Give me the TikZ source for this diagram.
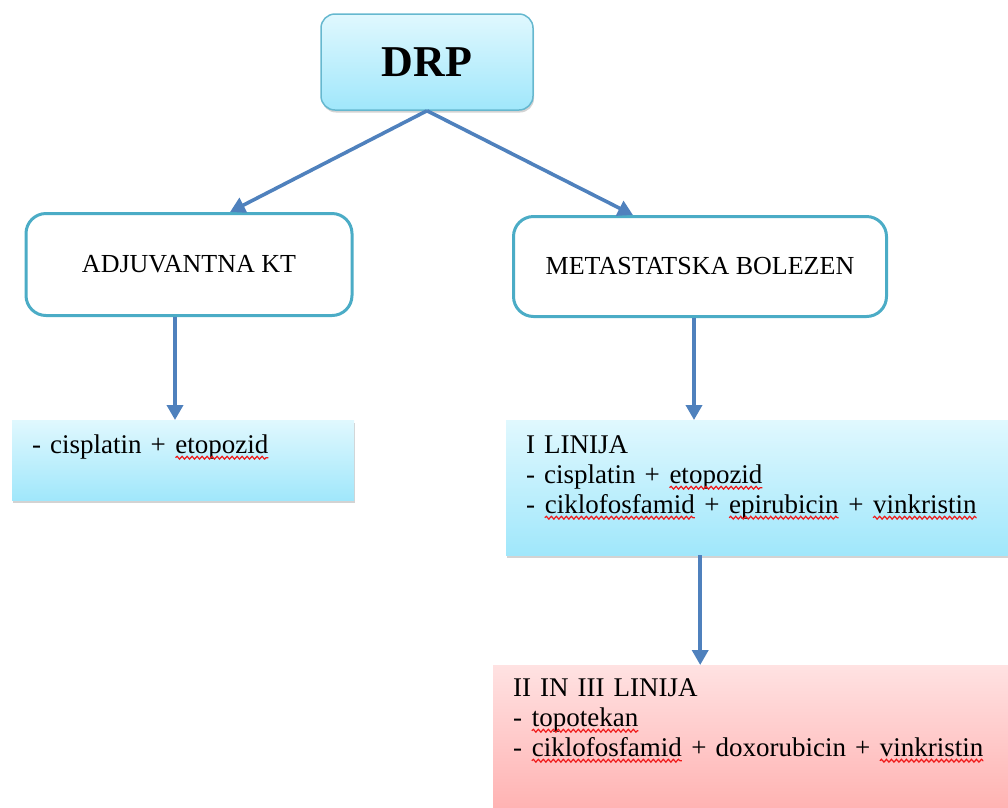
\documentclass[tikz,border=0pt]{standalone}
\usepackage{fontspec}
\setmainfont{Liberation Serif}
\usepackage{xcolor}
\usepackage{tikz}
\usetikzlibrary{arrows.meta}
\usetikzlibrary{shadows}
\usetikzlibrary{decorations.pathmorphing}
\usetikzlibrary{positioning}

\definecolor{boxline}{HTML}{4BACC6}
\definecolor{arrowblue}{HTML}{4F81BD}
\definecolor{cyantop}{HTML}{E0F8FE}
\definecolor{cyanbot}{HTML}{A0E7FB}
\definecolor{pinktop}{HTML}{FFE2E2}
\definecolor{pinkbot}{HTML}{FFA6A6}
\definecolor{spellred}{HTML}{F01818}

% red wavy spell-check underline
\newcommand\spell[1]{\tikz[baseline=(sw.base)]{%
    \node[inner sep=0pt, outer sep=0pt, anchor=base] (sw) {#1};
    \draw[spellred, line width=1.2pt, decorate,
      decoration={snake, amplitude=1.4pt, segment length=5pt}]
      ([yshift=-4.5pt]sw.base west) -- ([yshift=-4.5pt]sw.base east);}}

\begin{document}
\begin{tikzpicture}[x=1pt, y=-1pt,
    head/.style={draw=boxline!85, line width=1.5pt, rounded corners=14pt,
      top color=cyantop, bottom color=cyanbot,
      drop shadow={shadow xshift=1pt, shadow yshift=-2.5pt, opacity=0.35},
      minimum width=212pt, minimum height=96pt,
      font=\fontsize{44}{48}\selectfont\bfseries},
    branch/.style={draw=boxline, line width=3pt, rounded corners=20pt,
      fill=white, font=\fontsize{26}{30}\selectfont},
    listbox/.style={anchor=north west, inner xsep=20pt, inner ysep=0pt,
      align=left, font=\fontsize{27}{30}\selectfont,
      drop shadow={shadow xshift=1pt, shadow yshift=-2.5pt, opacity=0.35}},
    link/.style={draw=arrowblue, line width=3.6pt,
      -{Triangle[length=15pt, width=16pt]}},
  ]

  \useasboundingbox (0,0) rectangle (1008,807);

  \node[head] (drp) at (427, 62) {DRP};

  \node[branch, minimum width=326pt, minimum height=102pt] (adj) at (189, 264.5) {ADJUVANTNA KT};
  \node[branch, minimum width=373pt, minimum height=100pt] (met) at (700, 266.5) {METASTATSKA BOLEZEN};

  \node[listbox, top color=cyantop, bottom color=cyanbot,
    text width=302pt, text height=33pt, text depth=47pt] (cis) at (12, 420)
    {- cisplatin + \spell{etopozid}};
  \node[listbox, top color=cyantop, bottom color=cyanbot,
    text width=484pt, text height=33pt, text depth=102pt] (lin1) at (506, 420)
    {I LINIJA\\- cisplatin + \spell{etopozid}\\- \spell{ciklofosfamid} + \spell{epirubicin} + \spell{vinkristin}};
  \node[listbox, top color=pinktop, bottom color=pinkbot,
    text width=497pt, text height=31pt, text depth=150pt] (lin23) at (493, 665)
    {II IN III LINIJA\\- \spell{topotekan}\\- \spell{ciklofosfamid} + doxorubicin + \spell{vinkristin}};

  \draw[link] (drp.south) -- ([xshift=41pt]adj.north);
  \draw[link] (drp.south) -- ([xshift=-67pt]met.north);
  \draw[link] ([xshift=-14pt]adj.south) -- ([xshift=-14pt]adj.south |- cis.north);
  \draw[link] ([xshift=-6pt]met.south) -- ([xshift=-6pt]met.south |- lin1.north);
  \draw[link] ([xshift=-68pt]lin1.south) -- ([xshift=-68pt]lin1.south |- lin23.north);

\end{tikzpicture}
\end{document}
